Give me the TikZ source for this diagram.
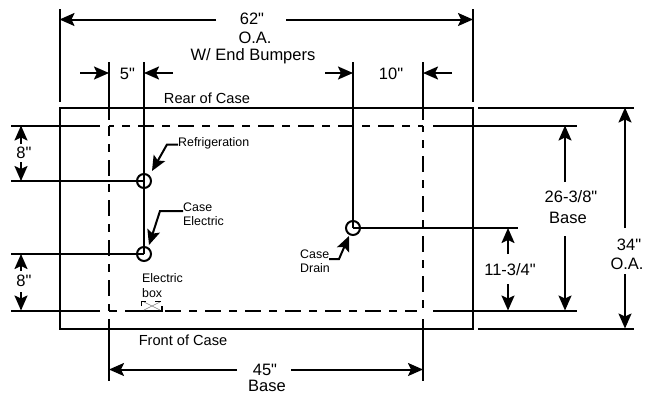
\documentclass[tikz,border=0pt]{standalone}
\usepackage{fontspec}
\newfontfamily\dimfont{Liberation Sans}
\usetikzlibrary{arrows.meta}
\tikzset{>={Stealth[length=15pt,width=13pt,inset=3pt]}}
\tikzset{
  line/.style = {line width=2pt},
  hidden/.style = {line width=2pt,dash pattern=on 16pt off 8pt on 8pt off 8pt},
  big/.style = {font=\dimfont\fontsize{16.5}{18}\selectfont,inner sep=0pt},
  mid/.style = {font=\dimfont\fontsize{14.6}{16}\selectfont,inner sep=0pt},
  small/.style = {font=\dimfont\fontsize{12.4}{14}\selectfont,inner sep=0pt}
}

\begin{document}
\begin{tikzpicture}[x=1pt,y=-1pt]
  \useasboundingbox (0,0) rectangle (652,394);
  % case
  \draw[line] (59.5,107.5) rectangle (473,328.5);
  \node[mid] (rear) at (207,98) {Rear of Case};
  \node[mid] (front) at (183,340.5) {Front of Case};
  % base
  \coordinate (tl) at (109,125.5);
  \coordinate (tr) at (423,125.5);
  \coordinate (bl) at (109,310.5);
  \draw[hidden,dash phase=11pt] (tl) -- (tr);
  \draw[hidden,dash phase=9.5pt] (tr) -- (423,308);
  \draw[hidden,dash phase=5.5pt] (tl) -- (bl);
  \draw[hidden,dash phase=24pt] (bl) -- (417,310.5);
  % stubs
  \coordinate (r) at (144,181);
  \coordinate (e) at (144,254);
  \coordinate (d) at (353,228);
  \draw[line] (r) circle (7);
  \draw[line] (e) circle (7);
  \draw[line] (d) circle (7);
  % witness lines
  \draw[line] (59.5,9) -- (59.5,102);
  \draw[line] (473,9) -- (473,102);
  \draw[line] (109,62) -- (109,120);
  \draw[line] (144,62) -- (e);
  \draw[line] (353,62) -- (d);
  \draw[line] (423,62) -- (423,120);
  \draw[line] (109,319) -- (109,381);
  \draw[line] (423,319) -- (423,381);
  \draw[line] (11,125.5) -- (100,125.5);
  \draw[line] (11,181) -- (r);
  \draw[line] (11,254) -- (e);
  \draw[line] (11,310.5) -- (100,310.5);
  \draw[line] (d) -- (518,228);
  \draw[line] (478,107.5) -- (634,107.5);
  \draw[line] (478,328.5) -- (634,328.5);
  \draw[line] (433,125.5) -- (577,125.5);
  \draw[line] (433,310.5) -- (577,310.5);
  % overall width
  \node[big] (w) at (252,19) {62"};
  \node[big] (oa) at (255,38) {O.A.};
  \node[big] (bump) at (253,56) {W/ End Bumpers};
  \draw[line,->] (216,19.5) -- (59.5,19.5);
  \draw[line,->] (286,19.5) -- (473,19.5);
  % top offsets
  \node[big] (five) at (127.5,73.5) {5"};
  \node[big] (ten) at (391,73.5) {10"};
  \draw[line,->] (80,73) -- (109,73);
  \draw[line,->] (173,73) -- (144,73);
  \draw[line,->] (325,73) -- (353,73);
  \draw[line,->] (452,73) -- (423,73);
  % left offsets
  \node[big] (ra) at (24,153) {8"};
  \node[big] (rb) at (24,281) {8"};
  \draw[line,->] (21,144) -- (21,125.5);
  \draw[line,->] (21,162) -- (21,181);
  \draw[line,->] (21,271) -- (21,254);
  \draw[line,->] (21,292) -- (21,310.5);
  % base width
  \node[big] (bw) at (265,370) {45"};
  \node[big] (bwb) at (267,386) {Base};
  \draw[line,->] (237,369.5) -- (109,369.5);
  \draw[line,->] (291,369.5) -- (423,369.5);
  % right dimensions
  \node[big] (drain) at (510,270) {11-3/4"};
  \draw[line,->] (508,254) -- (508,228);
  \draw[line,->] (508,284) -- (508,310.5);
  \node[big] (bd) at (571,197) {26-3/8"};
  \node[big] (bdb) at (568,218) {Base};
  \draw[line,->] (565,182) -- (565,125.5);
  \draw[line,->] (565,236) -- (565,310.5);
  \node[big] (od) at (629,245) {34"};
  \node[big] (odb) at (627,264) {O.A.};
  \draw[line,->] (625,228) -- (625,107.5);
  \draw[line,->] (625,274) -- (625,328.5);
  % callouts
  \node[small,anchor=west] (rl) at (178,143) {Refrigeration};
  \draw[line,->] (rl.west) ++(0,1.5) -- (167,144.5) -- (152,171);
  \node[small,anchor=west] (el) at (183,207) {Case};
  \node[small,anchor=west] (em) at (183,221) {Electric};
  \draw[line,->] (183,211) -- (160,211) -- (149,245);
  \node[small,anchor=west] (dl) at (300,254.5) {Case};
  \node[small,anchor=west] (dm) at (300,268) {Drain};
  \draw[line,->] (329,259) -- (339,259) -- (349,236);
  % electric box
  \node[small,anchor=west] (box) at (142,278.5) {Electric};
  \node[small,anchor=west] (boxb) at (142,293) {box};
  \draw[line] (125,310.5) -- (163,310.5);
  \draw[line width=0.5pt,gray] (144,302) -- (160,310) (144,310) -- (160,302);
  \draw[line width=1.2pt] (141.5,306) -- (141.5,301.5) -- (146,301.5);
  \draw[line width=1.2pt] (155,301.5) -- (161,301.5) (162,306) -- (162,310);
\end{tikzpicture}
\end{document}
